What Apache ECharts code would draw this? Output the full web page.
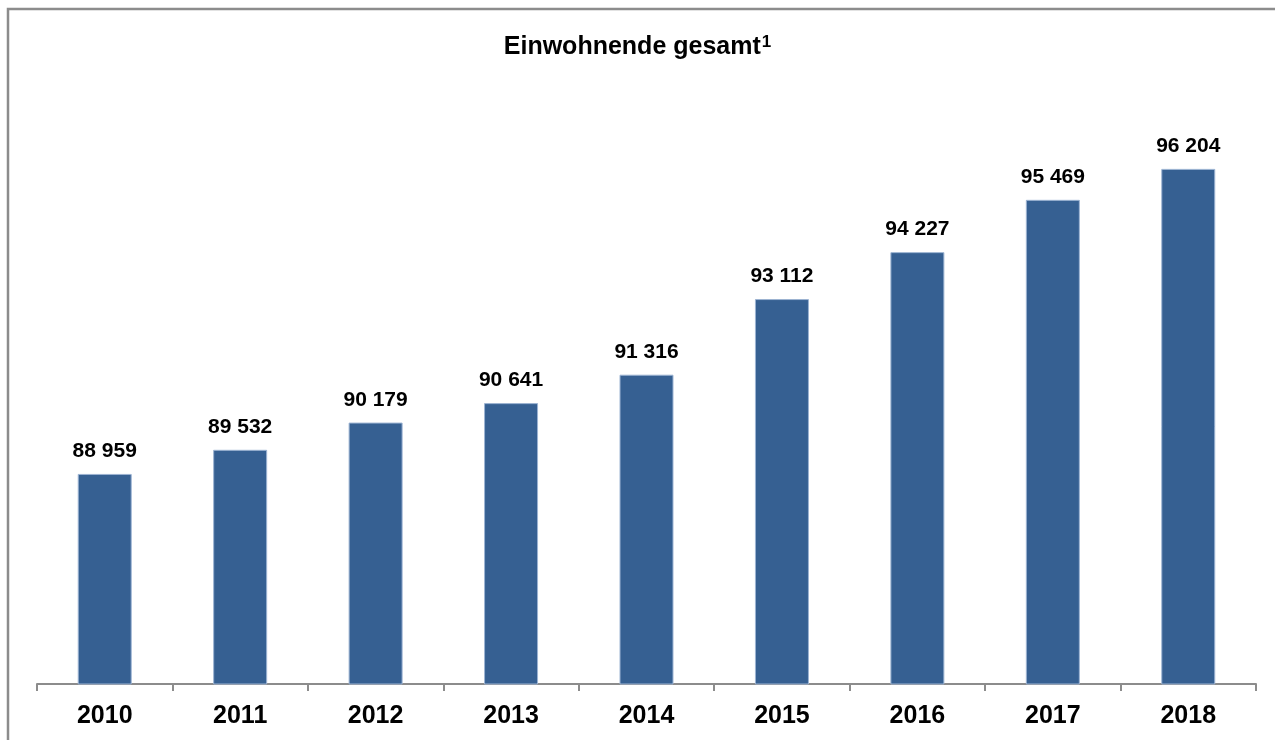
<!DOCTYPE html>
<html>
<head>
<meta charset="utf-8">
<script src="https://cdn.jsdelivr.net/npm/echarts@6/dist/echarts.min.js"></script>
<style>
  html, body { margin: 0; padding: 0; background: #fff; }
  #main { width: 1275px; height: 740px; }
</style>
</head>
<body>
<div id="main"></div>
<script>
// Jahre und Einwohnerzahlen
const years = ['2010', '2011', '2012', '2013', '2014', '2015', '2016', '2017', '2018'];
const residents = [88959, 89532, 90179, 90641, 91316, 93112, 94227, 95469, 96204];

const font = '"Liberation Sans", Arial, sans-serif';
const chart = echarts.init(document.getElementById('main'));

// Tausender mit Leerzeichen trennen
function fmt(v) {
  return String(v).replace(/\B(?=(\d{3})+(?!\d))/g, ' ');
}

chart.setOption({
  animation: false,
  title: {
    text: '{t|Einwohnende gesamt}{s|1}',
    left: 'center',
    top: 29,
    textStyle: {
      rich: {
        t: { fontFamily: font, fontWeight: 'bold', fontSize: 25, color: '#000' },
        s: { fontFamily: font, fontWeight: 'bold', fontSize: 17, color: '#000', verticalAlign: 'top', padding: [0, 0, 9, 1] }
      }
    }
  },
  graphic: [{
    type: 'rect',
    shape: { x: 8, y: 9, width: 1300, height: 800 },
    style: { fill: 'none', stroke: '#8c8c8c', lineWidth: 2.5 },
    silent: true
  }],
  grid: { left: 37, right: 19, top: 100, bottom: 56 },
  xAxis: {
    type: 'category',
    data: years,
    axisLine: { lineStyle: { color: '#8c8c8c', width: 2 } },
    axisTick: { show: true, length: 7, lineStyle: { color: '#8c8c8c', width: 2 } },
    axisLabel: { color: '#000', fontFamily: font, fontWeight: 'bold', fontSize: 25, margin: 20 }
  },
  yAxis: {
    type: 'value',
    min: 83970,
    max: 97840,
    show: false,
    splitLine: { show: false }
  },
  series: [{
    type: 'bar',
    data: residents,
    barWidth: 54,
    itemStyle: { color: '#366092', borderColor: '#9db4d3', borderWidth: 1 },
    label: {
      show: true,
      position: 'top',
      distance: 12,
      color: '#000',
      fontFamily: font,
      fontWeight: 'bold',
      fontSize: 21,
      formatter: p => fmt(p.value)
    }
  }]
});
</script>
</body>
</html>
